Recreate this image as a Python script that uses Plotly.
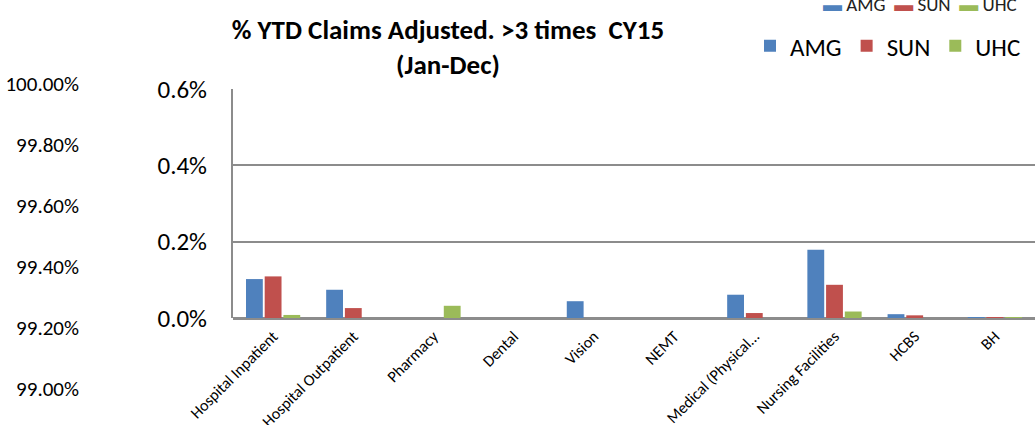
import plotly.graph_objects as go

# data (percent of claims)
categories = ["Hospital Inpatient", "Hospital Outpatient", "Pharmacy", "Dental", "Vision",
              "NEMT", "Medical (Physical…", "Nursing Facilities", "HCBS", "BH"]
amg = [0.102, 0.074, 0.0, 0.0, 0.044, 0.0, 0.061, 0.179, 0.010, 0.002]
sun = [0.109, 0.026, 0.0, 0.0, 0.0, 0.0, 0.013, 0.087, 0.007, 0.002]
uhc = [0.008, 0.0, 0.032, 0.0, 0.0, 0.0, 0.0, 0.017, 0.0, 0.002]

series_names = ["AMG", "SUN", "UHC"]
series_colors = ["#4F81BD", "#C0504D", "#9BBB59"]

main_ticks = [0.0, 0.2, 0.4, 0.6]
main_labels = ["0.0%", "0.2%", "0.4%", "0.6%"]
ghost_ticks = [99.0, 99.2, 99.4, 99.6, 99.8, 100.0]
ghost_labels = ["99.00%", "99.20%", "99.40%", "99.60%", "99.80%", "100.00%"]

FONT = "Carlito, Calibri, Lato, sans-serif"
W, H = 1035, 425
top_px, bot_px = 84, 389          # paper area (ghost axis span)
plot_top, plot_bot = 89, 318      # main axis span


def py(p):
    return (bot_px - p) / (bot_px - top_px)


fig = go.Figure()
for name, vals, col in zip(series_names, [amg, sun, uhc], series_colors):
    fig.add_trace(go.Bar(x=categories, y=vals, name=name,
                         marker=dict(color=col, line=dict(width=0)),
                         hoverinfo="skip"))

# empty trace so the leftover percentage axis gets drawn
fig.add_trace(go.Scatter(x=[], y=[], xaxis="x2", yaxis="y2", showlegend=False, hoverinfo="skip"))

fig.update_layout(
    width=W, height=H,
    margin=dict(l=0, r=0, t=top_px, b=H - bot_px, autoexpand=False),
    paper_bgcolor="white", plot_bgcolor="white",
    font=dict(family=FONT, color="black"),
    barmode="group", bargap=0.3, bargroupgap=0.1,
    title=dict(text="<b>% YTD Claims Adjusted. &gt;3 times \u00a0CY15<br>(Jan-Dec)</b>",
               x=448 / W, xanchor="center", xref="container",
               y=1 - 39 / H, yanchor="middle", yref="container",
               font=dict(size=27, family=FONT)),
    showlegend=True,
    legend=dict(orientation="h", x=750 / W, xanchor="left", y=py(46), yanchor="middle",
                font=dict(size=25), bgcolor="rgba(0,0,0,0)", traceorder="normal",
                itemwidth=30),
    xaxis=dict(domain=[233 / W, 1], tickangle=-45, tickfont=dict(size=16),
               showline=False, showgrid=False, ticks="", ticklabelstandoff=5,
               anchor="y", fixedrange=True),
    yaxis=dict(domain=[py(plot_bot), py(plot_top)], range=[0, 0.6],
               tickvals=main_ticks, ticktext=main_labels, tickfont=dict(size=25),
               showline=True, linecolor="#8c8c8c", linewidth=2,
               showgrid=True, gridcolor="#8c8c8c", gridwidth=2,
               zeroline=True, zerolinecolor="#8c8c8c", zerolinewidth=2.5,
               ticks="", ticklabelstandoff=19, anchor="x", fixedrange=True),
    xaxis2=dict(domain=[80 / W, 0.15], visible=False, anchor="y2", range=[0, 1]),
    yaxis2=dict(domain=[0, 1], range=[99.0, 100.0], tickvals=ghost_ticks, ticktext=ghost_labels,
                tickfont=dict(size=21), showline=False, showgrid=False, zeroline=False,
                ticks="", anchor="x2"),
)

# remnant of a second legend cut off at the top edge
fig.add_annotation(
    text="<span style='color:#4F81BD'>▬</span> AMG \u00a0<span style='color:#C0504D'>▬</span> SUN"
         " \u00a0<span style='color:#9BBB59'>▬</span> UHC",
    xref="paper", yref="paper", x=920 / W, y=py(5), xanchor="center", yanchor="middle",
    showarrow=False, font=dict(size=19, color="#222222"))

# drop the default page margin so the figure sits at the window's corner
fig.write_html("out.html", config={"displayModeBar": False},
               post_script="document.body.style.margin='0';")
